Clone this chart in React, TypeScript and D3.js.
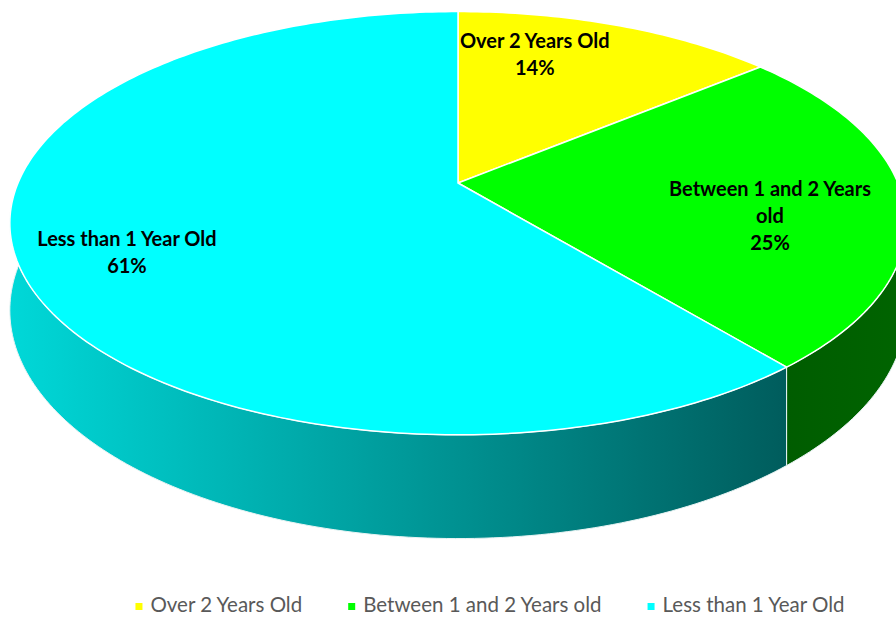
import React, { useEffect, useRef } from "react";
import * as d3 from "d3";

const width = 896;
const height = 617;

// chart data
const categories = ["Over 2 Years Old", "Between 1 and 2 Years old", "Less than 1 Year Old"];
const shares = [14, 25, 61];
const labelLines = [["Over 2 Years Old"], ["Between 1 and 2 Years", "old"], ["Less than 1 Year Old"]];
const topColors = ["#ffff00", "#00ff00", "#00ffff"];

// label placement: angle shift (deg) from slice middle and radius fraction
const labelShift = [-9.6, 7.8, -4.9];
const labelRadius = [0.736, 0.706, 0.777];

// perspective of the 3d pie
const cx = 458;
const cy = 183;
const rx = 440;
const ry = 204;
const k = 0.19;
const depth = 84;

function proj(a: number, r: number, h: number): [number, number] {
  const u = Math.sin(a) * r;
  const v = -Math.cos(a) * r;
  const d = 1 - k * v;
  return [cx + (rx * u) / d, cy + (ry * v) / d + (depth * h) / d];
}

function arcPoints(a0: number, a1: number, h: number) {
  const n = Math.max(2, Math.ceil(((a1 - a0) * 180) / Math.PI));
  return d3.range(n + 1).map(i => proj(a0 + ((a1 - a0) * i) / n, 1, h));
}

export default function App() {
  const ref = useRef<SVGSVGElement>(null);

  useEffect(() => {
    const svg = d3.select(ref.current);
    svg.selectAll("*").remove();

    const defs = svg.append("defs");
    const g1 = defs
      .append("linearGradient")
      .attr("id", "cyanSide")
      .attr("gradientUnits", "userSpaceOnUse")
      .attr("x1", 10)
      .attr("x2", 790)
      .attr("y1", 0)
      .attr("y2", 0);
    g1.append("stop").attr("offset", 0).attr("stop-color", "#00d8d8");
    g1.append("stop").attr("offset", 0.55).attr("stop-color", "#009494");
    g1.append("stop").attr("offset", 1).attr("stop-color", "#005c5c");
    const g2 = defs
      .append("linearGradient")
      .attr("id", "greenSide")
      .attr("gradientUnits", "userSpaceOnUse")
      .attr("x1", 780)
      .attr("x2", 900)
      .attr("y1", 0)
      .attr("y2", 0);
    g2.append("stop").attr("offset", 0).attr("stop-color", "#005c00");
    g2.append("stop").attr("offset", 1).attr("stop-color", "#006400");
    const sideFills = ["#a0a000", "url(#greenSide)", "url(#cyanSide)"];

    const pie = d3
      .pie<number>()
      .sort(null)
      .value(d => d)
      .startAngle(0)
      .endAngle(2 * Math.PI);
    const arcs = pie(shares);
    const line = d3.line();

    // outer walls, front half only
    const front0 = Math.PI / 2 - 0.05;
    const front1 = (3 * Math.PI) / 2 + 0.05;
    arcs.forEach((d, i) => {
      const a0 = Math.max(d.startAngle, front0);
      const a1 = Math.min(d.endAngle, front1);
      if (a1 <= a0) return;
      const pts = arcPoints(a0, a1, 0).concat(arcPoints(a0, a1, 1).reverse());
      svg
        .append("path")
        .attr("d", line(pts) + "Z")
        .attr("fill", sideFills[i])
        .attr("stroke", "#e8f4f4")
        .attr("stroke-width", 1)
        .attr("stroke-linejoin", "round");
    });

    // top faces
    arcs.forEach((d, i) => {
      const pts = [proj(0, 0, 0)].concat(arcPoints(d.startAngle, d.endAngle, 0));
      svg
        .append("path")
        .attr("d", line(pts) + "Z")
        .attr("fill", topColors[i])
        .attr("stroke", "#ffffff")
        .attr("stroke-width", 1.5)
        .attr("stroke-linejoin", "round");
    });

    // data labels
    arcs.forEach((d, i) => {
      const mid = (d.startAngle + d.endAngle) / 2 + (labelShift[i] * Math.PI) / 180;
      const [x, y] = proj(mid, labelRadius[i], 0);
      const lines = labelLines[i].concat([shares[i] + "%"]);
      const lh = 27;
      const t = svg
        .append("text")
        .attr("text-anchor", "middle")
        .attr("font-family", "Lato, 'Open Sans', sans-serif")
        .attr("font-weight", "bold")
        .attr("font-size", 20)
        .attr("fill", "#000000");
      lines.forEach((s, j) => {
        t.append("tspan")
          .attr("x", x)
          .attr("y", y + (j - (lines.length - 1) / 2) * lh + 6)
          .text(s);
      });
    });

    // legend
    const legend = svg.append("g");
    let lx = 0;
    categories.forEach((c, i) => {
      const item = legend.append("g").attr("transform", `translate(${lx},0)`);
      item
        .append("rect")
        .attr("x", 0)
        .attr("y", -9)
        .attr("width", 7)
        .attr("height", 7)
        .attr("fill", topColors[i]);
      const txt = item
        .append("text")
        .attr("x", 15)
        .attr("y", 0)
        .attr("font-family", "Lato, 'Open Sans', sans-serif")
        .attr("font-size", 20.5)
        .attr("fill", "#595959")
        .text(c);
      const w = (txt.node() as SVGTextElement).getComputedTextLength();
      lx += 15 + w + 46;
    });
    const total = lx - 46;
    legend.attr("transform", `translate(${490 - total / 2},612)`);
  }, []);

  return (
    <svg
      ref={ref}
      width={width}
      height={height}
      style={{ position: "absolute", left: 0, top: 0, background: "#ffffff" }}
    />
  );
}
